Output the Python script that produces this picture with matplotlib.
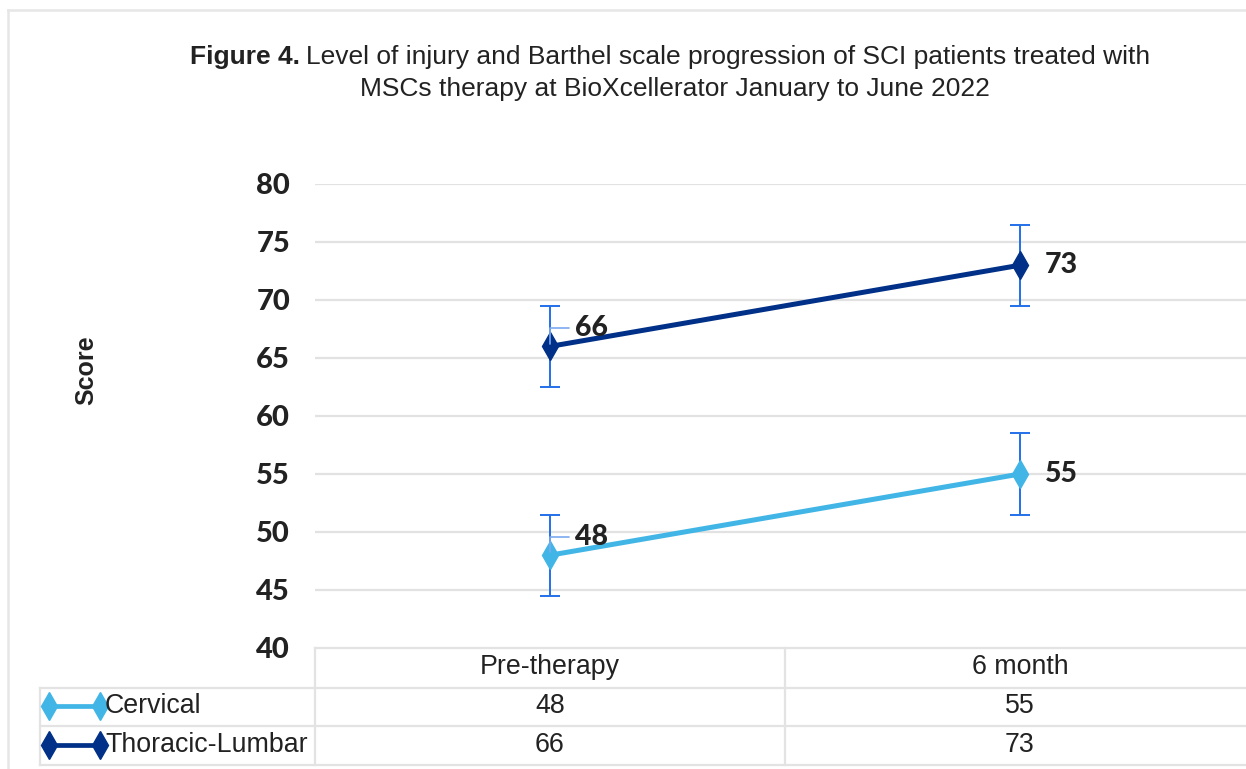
import matplotlib.pyplot as plt
from matplotlib.lines import Line2D

# data
categories = ["Pre-therapy", "6 month"]
series_names = ["Cervical", "Thoracic-Lumbar"]
cervical = [48, 55]
thoracic = [66, 73]
err = [3.5, 3.5]
colors = ["#41b6e6", "#003087"]

W, H = 1246, 769
fig = plt.figure(figsize=(W / 100, H / 100), dpi=100)
fig.patch.set_facecolor("white")


def fx(px):
    return px / W


def fy(py):
    return 1 - py / H


def fline(x0, y0, x1, y1, color="#e3e3e3", lw=1.6):
    fig.add_artist(Line2D([fx(x0), fx(x1)], [fy(y0), fy(y1)], color=color, lw=lw,
                          transform=fig.transFigure))


# outer frame
fline(8, 10, W, 10, color="#e6e6e6", lw=1.8)
fline(8, 10, 8, H, color="#e6e6e6", lw=1.8)

# plot area: 315..1255 px wide, 184..648 px tall
ax = fig.add_axes([fx(315), fy(648), fx(1255) - fx(315), fy(184) - fy(648)])
ax.set_facecolor("none")
ax.set_xlim(-0.5, 1.5)
ax.set_ylim(40, 80)
ax.set_yticks(range(40, 81, 5))
ax.set_yticklabels([str(v) for v in range(40, 81, 5)], fontfamily="Lato",
                   fontweight="black", fontsize=21, color="#222222")
ax.tick_params(axis="y", length=0, pad=18)
ax.set_xticks([])
for s in ax.spines.values():
    s.set_visible(False)
for v in range(45, 81, 5):
    ax.axhline(v, color="#e2e2e2", lw=1.6, zorder=0)

lab = dict(fontsize=20.5, fontfamily="Lato", fontweight="black", color="#222222",
           va="center", ha="left")
x = range(len(categories))
for vals, c in zip([cervical, thoracic], colors):
    ax.errorbar(x, vals, yerr=err, fmt="none", ecolor="#2470ea", elinewidth=1.4,
                capsize=7, capthick=1.4, zorder=2)
    ax.plot(x, vals, color=c, lw=3.6, marker="d", markersize=14, zorder=3)
    # first point label with a little leader line
    ax.annotate(str(vals[0]), xy=(x[0], vals[0]), xytext=(18, 13), textcoords="offset points",
                arrowprops=dict(arrowstyle="-", color="#7aa9f0", lw=1.2,
                                connectionstyle="angle,angleA=0,angleB=90,rad=0",
                                shrinkA=2, shrinkB=2), **lab)
    ax.annotate(str(vals[1]), xy=(x[1], vals[1]), xytext=(18, 0), textcoords="offset points",
                **lab)

fig.text(fx(86), fy(370), "Score", rotation=90, ha="center", va="center",
         fontfamily="Liberation Sans", fontweight="bold", fontsize=18, color="#222222")

# data table under the axis
fline(315, 648, W, 648)
fline(40, 688, W, 688)
fline(40, 726, W, 726)
fline(40, 765, W, 765)
fline(315, 648, 315, 765)
fline(785, 648, 785, 765)
fline(40, 688, 40, 765)

tfont = dict(fontfamily="Liberation Sans", fontsize=19.3, color="#222222", va="center")
for i, cat in enumerate(categories):
    xc = ax.transData.transform((i, 0))[0] / W
    fig.text(xc, fy(667), cat, ha="center", **tfont)
    fig.text(xc, fy(706), str(cervical[i]), ha="center", **tfont)
    fig.text(xc, fy(745), str(thoracic[i]), ha="center", **tfont)

for name, c, yy in zip(series_names, colors, [706, 745]):
    fig.add_artist(Line2D([fx(49), fx(100)], [fy(yy), fy(yy)], color=c, lw=3.4,
                          marker="d", markersize=14, transform=fig.transFigure))
    fig.text(fx(105), fy(yy), name, ha="left", **tfont)

# title
t1 = fig.text(fx(190), fy(57), "Figure 4.", ha="left", va="center",
              fontfamily="Liberation Sans", fontweight="bold", fontsize=19, color="#222222")
fig.canvas.draw()
bb = t1.get_window_extent()
fig.text(bb.x1 / W + fx(6), fy(57), "Level of injury and Barthel scale progression of SCI patients treated with",
         ha="left", va="center", fontfamily="Liberation Sans", fontsize=19, color="#222222")
fig.text(fx(675), fy(89), "MSCs therapy at BioXcellerator January to June 2022",
         ha="center", va="center", fontfamily="Liberation Sans", fontsize=19, color="#222222")

fig.savefig("out.png", dpi=100)
